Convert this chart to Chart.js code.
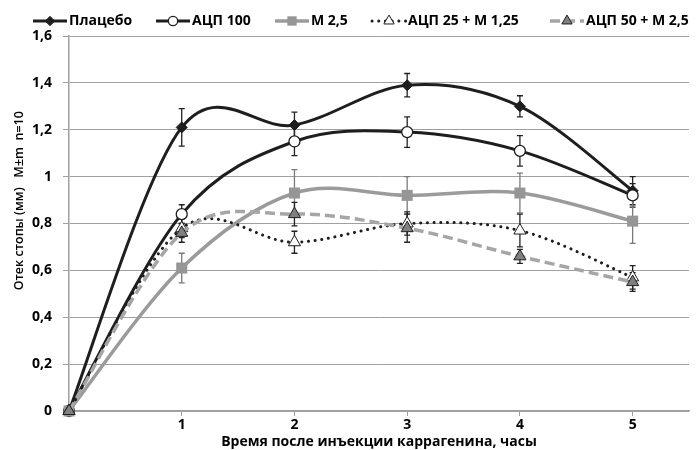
<!DOCTYPE html>
<html>
<head>
<meta charset="utf-8">
<script src="https://cdn.jsdelivr.net/npm/chart.js@4.4.1/dist/chart.umd.min.js"></script>
<style>
  body { margin: 0; background: #fff; }
</style>
</head>
<body>
<canvas id="chart" width="697" height="450"></canvas>
<script>
// hours after injection
const hours = [0, 1, 2, 3, 4, 5];
const xTicks = [1, 2, 3, 4, 5];

const names = ['Плацебо', 'АЦП 100', 'М 2,5', 'АЦП 25 + М 1,25', 'АЦП 50 + М 2,5'];

const placebo    = [0, 1.21, 1.22, 1.39, 1.30, 0.94];
const placeboErr = [0, 0.08, 0.055, 0.05, 0.045, 0.06];
const acp100     = [0, 0.84, 1.15, 1.19, 1.11, 0.92];
const acp100Err  = [0, 0.04, 0.06, 0.065, 0.065, 0.05];
const m25        = [0, 0.61, 0.93, 0.92, 0.93, 0.81];
const m25Err     = [0, 0.063, 0.1, 0.08, 0.085, 0.095];
const acp25m     = [0, 0.78, 0.72, 0.80, 0.77, 0.57];
const acp25mErr  = [0, 0.04, 0.047, 0.05, 0.07, 0.05];
const acp50m     = [0, 0.76, 0.84, 0.78, 0.66, 0.55];
const acp50mErr  = [0, 0.04, 0.05, 0.06, 0.03, 0.04];

const FONT = '"Open Sans", "Liberation Sans", sans-serif';

function pts(vals) {
  return hours.map((h, i) => ({ x: h, y: vals[i] }));
}

// excel style smoothing (uniform catmull-rom) instead of chart.js distance weighting
const excelSmooth = {
  id: 'excelSmooth',
  beforeDatasetsDraw(chart) {
    chart.getSortedVisibleDatasetMetas().forEach(meta => {
      const p = meta.data;
      p.forEach((pt, i) => {
        const prev = p[Math.max(i - 1, 0)];
        const next = p[Math.min(i + 1, p.length - 1)];
        const dx = (next.x - prev.x) / 6, dy = (next.y - prev.y) / 6;
        pt.cp1x = pt.x - dx; pt.cp1y = pt.y - dy;
        pt.cp2x = pt.x + dx; pt.cp2y = pt.y + dy;
      });
      meta.dataset._pointsUpdated = true;
    });
  }
};

// vertical error bars, drawn under the markers
const errorBars = {
  id: 'errorBars',
  beforeDatasetsDraw(chart) {
    const ctx = chart.ctx;
    const x = chart.scales.x, y = chart.scales.y;
    chart.data.datasets.forEach(ds => {
      ctx.save();
      ctx.strokeStyle = ds.errorColor;
      ctx.lineWidth = 1.3;
      ds.data.forEach((p, i) => {
        const e = ds.errors[i];
        if (!e) return;
        const px = x.getPixelForValue(p.x);
        const top = y.getPixelForValue(p.y + e);
        const bot = y.getPixelForValue(p.y - e);
        ctx.beginPath();
        ctx.moveTo(px, top); ctx.lineTo(px, bot);
        ctx.moveTo(px - 3, top); ctx.lineTo(px + 3, top);
        ctx.moveTo(px - 3, bot); ctx.lineTo(px + 3, bot);
        ctx.stroke();
      });
      ctx.restore();
    });
  }
};

// excel-like legend: line sample with marker
const lineLegend = {
  id: 'lineLegend',
  afterDraw(chart) {
    const ctx = chart.ctx;
    const starts = [33, 156, 275, 372, 550];
    const y = 21;
    chart.data.datasets.forEach((ds, i) => {
      const x0 = starts[i], x1 = x0 + 34;
      ctx.save();
      ctx.strokeStyle = ds.borderColor;
      ctx.lineWidth = ds.borderWidth;
      ctx.setLineDash(ds.borderDash || []);
      ctx.lineCap = ds.borderCapStyle || 'butt';
      ctx.beginPath();
      ctx.moveTo(x0, y); ctx.lineTo(x1, y);
      ctx.stroke();
      ctx.setLineDash([]);
      ctx.lineCap = 'butt';
      ctx.fillStyle = ds.pointBackgroundColor;
      ctx.strokeStyle = ds.pointBorderColor;
      ctx.lineWidth = ds.pointBorderWidth;
      Chart.helpers.drawPoint(ctx, {
        pointStyle: ds.pointStyle,
        radius: ds.pointRadius * 0.85,
        borderWidth: ds.pointBorderWidth
      }, (x0 + x1) / 2, y);
      ctx.fillStyle = '#000';
      ctx.font = 'bold 14px ' + FONT;
      ctx.textBaseline = 'middle';
      ctx.fillText(ds.label, x1 + 2, y);
      ctx.restore();
    });
  }
};

new Chart(document.getElementById('chart'), {
  type: 'line',
  data: {
    datasets: [{
      label: names[0],
      data: pts(placebo),
      errors: placeboErr,
      errorColor: '#222',
      borderColor: '#1e1e1e',
      borderWidth: 3,
      pointStyle: 'rectRot',
      pointRadius: 5.5,
      pointBackgroundColor: '#1e1e1e',
      pointBorderColor: '#1e1e1e',
      pointBorderWidth: 1,
      clip: false,
      order: 4
    }, {
      label: names[1],
      data: pts(acp100),
      errors: acp100Err,
      errorColor: '#222',
      borderColor: '#1e1e1e',
      borderWidth: 3,
      pointStyle: 'circle',
      pointRadius: 5.5,
      pointBackgroundColor: '#fff',
      pointBorderColor: '#1e1e1e',
      pointBorderWidth: 1.3,
      clip: false,
      order: 3
    }, {
      label: names[2],
      data: pts(m25),
      errors: m25Err,
      errorColor: '#7a7a7a',
      borderColor: '#9b9b9b',
      borderWidth: 3.5,
      pointStyle: 'rect',
      pointRadius: 7.8,
      pointBackgroundColor: '#969696',
      pointBorderColor: '#969696',
      pointBorderWidth: 0,
      clip: false,
      order: 2
    }, {
      label: names[3],
      data: pts(acp25m),
      errors: acp25mErr,
      errorColor: '#222',
      borderColor: '#1e1e1e',
      borderWidth: 3,
      borderDash: [0.1, 6.6],
      borderCapStyle: 'round',
      pointStyle: 'triangle',
      pointRadius: 7,
      pointBackgroundColor: '#fff',
      pointBorderColor: '#1e1e1e',
      pointBorderWidth: 1,
      clip: false,
      order: 1
    }, {
      label: names[4],
      data: pts(acp50m),
      errors: acp50mErr,
      errorColor: '#222',
      borderColor: '#a6a6a6',
      borderWidth: 3.5,
      borderDash: [10, 5],
      pointStyle: 'triangle',
      pointRadius: 7,
      pointBackgroundColor: '#808080',
      pointBorderColor: '#1e1e1e',
      pointBorderWidth: 1,
      clip: false,
      order: 0
    }]
  },
  options: {
    responsive: false,
    animation: false,
    tension: 0.5,
    layout: { padding: { top: 36, right: 2, left: 0, bottom: 0 } },
    plugins: {
      legend: { display: false },
      tooltip: { enabled: false }
    },
    scales: {
      x: {
        type: 'linear',
        min: 0,
        max: 5.5,
        afterBuildTicks: s => { s.ticks = xTicks.map(v => ({ value: v })); },
        afterFit: s => { s.height = 39; },
        grid: { drawOnChartArea: false, tickLength: 5, color: '#a0a0a0' },
        border: { color: '#a0a0a0', width: 1.5 },
        ticks: { color: '#000', padding: 1, font: { family: FONT, size: 14, weight: 'bold' } },
        title: {
          display: true,
          text: 'Время после инъекции каррагенина, часы',
          color: '#000',
          padding: { top: 0, bottom: 0 },
          font: { family: FONT, size: 14, weight: 'bold' }
        }
      },
      y: {
        min: 0,
        max: 1.6,
        afterFit: s => { s.width = 69; },
        grid: { tickLength: 6, color: '#a0a0a0' },
        border: { color: '#a0a0a0', width: 1.5 },
        ticks: {
          stepSize: 0.2,
          color: '#000',
          padding: 11,
          font: { family: FONT, size: 14, weight: 'bold' },
          callback: v => String(Math.round(v * 10) / 10).replace('.', ',')
        },
        title: {
          display: true,
          text: '              Отек стопы (мм)   M±m  n=10',
          color: '#000',
          padding: { top: 12, bottom: 0 },
          font: { family: FONT, size: 12.5, weight: '600' }
        }
      }
    }
  },
  plugins: [excelSmooth, errorBars, lineLegend]
});
</script>
</body>
</html>
